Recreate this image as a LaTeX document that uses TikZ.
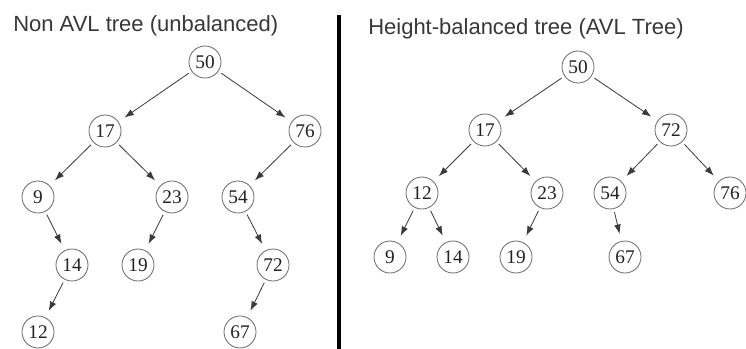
\documentclass[tikz,border=0pt]{standalone}
\usepackage{fontspec}
\setmainfont{Liberation Serif}
\newfontfamily\titlefont{Liberation Sans}
\usetikzlibrary{arrows.meta}
\definecolor{Ink}{HTML}{222222}
\definecolor{Ring}{HTML}{6A6A6A}
\definecolor{Edge}{HTML}{3A3A3A}
\tikzset{
  vtx/.style={draw=Ring,circle,line width=0.6pt,minimum size=24pt,inner sep=0pt,font=\fontsize{14.5}{15}\selectfont,text=Ink},
  arr/.style={-{Latex[length=7pt,width=5pt]},draw=Edge,line width=0.6pt,shorten <=2.5pt,shorten >=5.5pt},
  heading/.style={anchor=base west,inner sep=0pt,font=\titlefont\fontsize{16.5}{18}\selectfont,text=Ink!90},
  divider/.style={draw=black,line width=3pt}
}
\begin{document}
\begin{tikzpicture}[x=0.75pt,y=-0.75pt]
  \useasboundingbox[fill=white] (0,0) rectangle (746,349);
  % headings and separator
  \node[heading] (tl) at (13,32) {Non AVL tree (unbalanced)};
  \node[heading] (tr) at (368,35) {Height-balanced tree (AVL Tree)};
  \coordinate (st) at (339,15);
  \coordinate (sb) at (339,349);
  \draw[divider] (st) -- (sb);
  % unbalanced tree
  \node[vtx] (l50) at (205,62) {50};
  \node[vtx] (l17) at (105,131) {17};
  \node[vtx] (l76) at (305,131) {76};
  \node[vtx] (l9) at (38,197) {9};
  \node[vtx] (l23) at (172,197) {23};
  \node[vtx] (l54) at (238,197) {54};
  \node[vtx] (l14) at (72,265) {14};
  \node[vtx] (l19) at (138,265) {19};
  \node[vtx] (l72) at (273,265) {72};
  \node[vtx] (l12) at (38,332) {12};
  \node[vtx] (l67) at (240,332) {67};
  \draw[arr] (l50) -- (l17);
  \draw[arr] (l50) -- (l76);
  \draw[arr] (l17) -- (l9);
  \draw[arr] (l17) -- (l23);
  \draw[arr] (l76) -- (l54);
  \draw[arr] (l9) -- (l14);
  \draw[arr] (l23) -- (l19);
  \draw[arr] (l54) -- (l72);
  \draw[arr] (l14) -- (l12);
  \draw[arr] (l72) -- (l67);
  % balanced tree
  \node[vtx] (r50) at (578,67) {50};
  \node[vtx] (r17) at (485,130) {17};
  \node[vtx] (r72) at (671,130) {72};
  \node[vtx] (r12) at (422,193) {12};
  \node[vtx] (r23) at (547,193) {23};
  \node[vtx] (r54) at (610,193) {54};
  \node[vtx] (r76) at (730,193) {76};
  \node[vtx] (r9) at (390,257) {9};
  \node[vtx] (r14) at (453,257) {14};
  \node[vtx] (r19) at (516,257) {19};
  \node[vtx] (r67) at (625,257) {67};
  \draw[arr] (r50) -- (r17);
  \draw[arr] (r50) -- (r72);
  \draw[arr] (r17) -- (r12);
  \draw[arr] (r17) -- (r23);
  \draw[arr] (r72) -- (r54);
  \draw[arr] (r72) -- (r76);
  \draw[arr] (r12) -- (r9);
  \draw[arr] (r12) -- (r14);
  \draw[arr] (r23) -- (r19);
  \draw[arr] (r54) -- (r67);
\end{tikzpicture}
\end{document}
